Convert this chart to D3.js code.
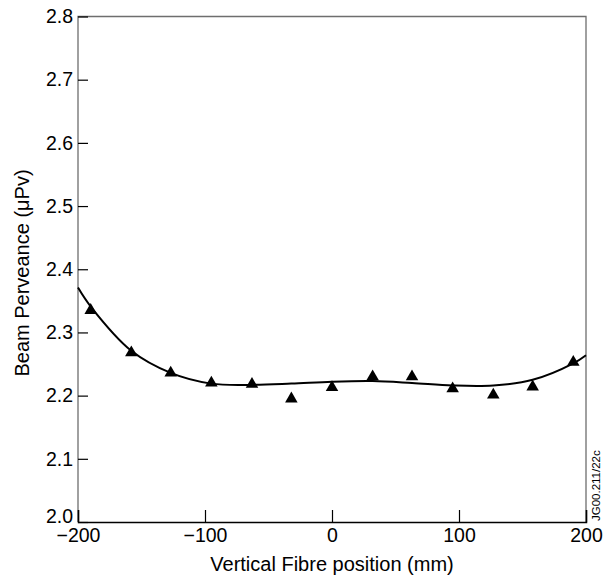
<!DOCTYPE html>
<html><head><meta charset="utf-8">
<script src="https://cdn.jsdelivr.net/npm/d3@7"></script>
<style>body{margin:0;background:#fff}svg{display:block}text{font-family:"Liberation Sans",Arial,sans-serif;fill:#000}</style>
</head><body><div id="c"></div>
<script>
const xTicks = [-200, -100, 0, 100, 200];
const yTicks = [2.0, 2.1, 2.2, 2.3, 2.4, 2.5, 2.6, 2.7, 2.8];
const pointX = [-190, -158, -127, -95, -63, -32, 0, 32, 63, 95, 127, 158, 190];
const pointY = [2.335, 2.268, 2.236, 2.220, 2.218, 2.195, 2.213, 2.230, 2.230, 2.211, 2.201, 2.214, 2.253];
const fitX = [-200, -190, -158, -127, -95, -63, -32, 0, 32, 63, 95, 127, 158, 190, 200];
const fitY = [2.371, 2.341, 2.271, 2.236, 2.219, 2.217, 2.219, 2.222, 2.223, 2.220, 2.216, 2.216, 2.225, 2.251, 2.264];

const W = 608, H = 578;
const m = {l: 78, r: 22, t: 16.5, b: 56};
const svg = d3.select("#c").append("svg").attr("width", W).attr("height", H);
const x = d3.scaleLinear().domain([-200, 200]).range([m.l, W - m.r]);
const y = d3.scaleLinear().domain([2.0, 2.8]).range([H - m.b, m.t]);
const FF = "Liberation Sans, Arial, sans-serif";

// frame (top/right/left grey)
svg.append("path").attr("d", `M${x(-200)},${y(2.0)}V${y(2.8)}H${x(200)}V${y(2.0)}`)
  .attr("fill", "none").attr("stroke", "#6e6e6e").attr("stroke-width", 1.3);

// x axis
const gx = svg.append("g").attr("transform", `translate(0,${y(2.0)})`)
  .call(d3.axisBottom(x).tickValues(xTicks).tickSize(-12).tickPadding(6)
    .tickFormat(d => d < 0 ? "\u2212" + Math.abs(d) : d));
gx.select(".domain").attr("stroke", "#000").attr("stroke-width", 1.5);
gx.selectAll(".tick line").attr("stroke", "#000").attr("stroke-width", 1.2);
gx.selectAll(".tick text").attr("font-size", 19.5).attr("font-family", FF).attr("dy", "0.73em");

// y axis
const gy = svg.append("g").attr("transform", `translate(${x(-200)},0)`)
  .call(d3.axisLeft(y).tickValues(yTicks).tickSize(-10).tickPadding(5).tickFormat(d3.format(".1f")));
gy.select(".domain").remove();
gy.selectAll(".tick line").attr("stroke", "#000").attr("stroke-width", 1.2);
gy.selectAll(".tick text").attr("font-size", 19.5).attr("font-family", FF)
  .attr("dy", d => d === 2.0 ? "0.02em" : "0.32em");

// fit curve
const fit = fitX.map((v, i) => [v, fitY[i]]);
svg.append("path").datum(fit)
  .attr("d", d3.line().x(d => x(d[0])).y(d => y(d[1])).curve(d3.curveCatmullRom.alpha(0.5)))
  .attr("fill", "none").attr("stroke", "#000").attr("stroke-width", 2);

// points
const tri = d3.symbol().type(d3.symbolTriangle).size(68);
svg.selectAll(".pt").data(pointX.map((v, i) => [v, pointY[i]])).enter().append("path")
  .attr("d", tri).attr("transform", d => `translate(${x(d[0])},${y(d[1])})`).attr("fill", "#000");

// titles
svg.append("text").attr("x", x(0)).attr("y", 571).attr("text-anchor", "middle")
  .attr("font-size", 20).text("Vertical Fibre position (mm)");
svg.append("text").attr("transform", `translate(29,273) rotate(-90)`)
  .attr("text-anchor", "middle").attr("font-size", 20).text("Beam Perveance (\u03bcPv)");
svg.append("text").attr("transform", `translate(600,521) rotate(-90)`)
  .attr("text-anchor", "start").attr("font-size", 11.5).text("JG00.211/22c");
</script></body></html>
